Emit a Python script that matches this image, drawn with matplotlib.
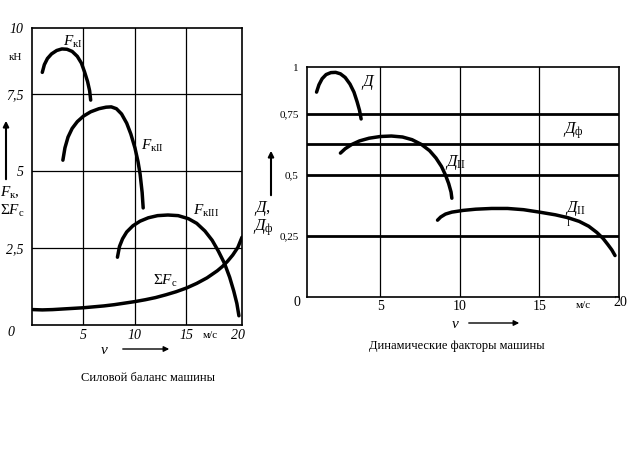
import matplotlib
matplotlib.use("Agg")
import matplotlib.pyplot as plt

plt.rcParams['font.family'] = ['Liberation Serif', 'DejaVu Serif']
plt.rcParams['mathtext.fontset'] = 'custom'
plt.rcParams['mathtext.rm'] = 'Liberation Serif'
plt.rcParams['mathtext.it'] = 'Liberation Serif:italic'

# ---- left chart: силовой баланс ----
fk1_v = [1.0, 1.2, 1.5, 1.9, 2.4, 2.9, 3.4, 3.9, 4.4, 4.8, 5.1, 5.4, 5.6, 5.7]
fk1_f = [8.2, 8.45, 8.65, 8.8, 8.91, 8.96, 8.95, 8.88, 8.72, 8.5, 8.22, 7.9, 7.6, 7.3]
fk2_v = [3.0, 3.2, 3.5, 3.9, 4.4, 5.0, 5.7, 6.5, 7.2, 7.7, 8.2, 8.7, 9.2, 9.6,
         10.0, 10.3, 10.5, 10.7, 10.8]
fk2_f = [5.35, 5.75, 6.1, 6.38, 6.6, 6.78, 6.92, 7.02, 7.07, 7.08, 7.02, 6.85,
         6.55, 6.2, 5.75, 5.3, 4.9, 4.3, 3.8]
fk3_v = [8.3, 8.5, 8.8, 9.2, 9.8, 10.5, 11.3, 12.2, 13.2, 14.2, 15.2, 16.0, 16.8,
         17.5, 18.1, 18.7, 19.2, 19.6, 19.9, 20.1]
fk3_f = [2.2, 2.55, 2.8, 3.02, 3.22, 3.37, 3.48, 3.55, 3.57, 3.55, 3.45, 3.3,
         3.05, 2.75, 2.4, 2.0, 1.55, 1.1, 0.7, 0.3]
fc_v = [0.1, 1, 2, 3, 4, 5, 6, 7, 8, 9, 10, 11, 12, 13, 14, 15, 16, 17, 18,
        18.5, 19, 19.5, 20, 20.4]
fc_f = [0.5, 0.49, 0.5, 0.52, 0.54, 0.56, 0.59, 0.62, 0.66, 0.71, 0.76, 0.82,
        0.89, 0.98, 1.08, 1.2, 1.35, 1.53, 1.76, 1.9, 2.07, 2.27, 2.52, 2.85]
left_xticks = [5, 10, 15, 20]
left_yticks = [2.5, 5, 7.5]
left_ylabels = ['2,5', '5', '7,5']

# ---- right chart: динамические факторы ----
d1_v = [1.0, 1.15, 1.35, 1.6, 1.9, 2.2, 2.5, 2.8, 3.1, 3.35, 3.55, 3.7, 3.8]
d1 = [0.84, 0.87, 0.895, 0.912, 0.92, 0.921, 0.915, 0.9, 0.873, 0.84, 0.8, 0.765, 0.73]
d2_v = [2.5, 2.8, 3.2, 3.7, 4.3, 5.0, 5.7, 6.4, 7.0, 7.6, 8.1, 8.5, 8.85, 9.1,
        9.3, 9.45, 9.5]
d2 = [0.59, 0.608, 0.625, 0.64, 0.651, 0.658, 0.66, 0.656, 0.645, 0.625, 0.6,
      0.57, 0.535, 0.5, 0.465, 0.43, 0.405]
d3_v = [8.6, 8.8, 9.1, 9.5, 10.2, 11.0, 12.0, 13.0, 14.0, 15.0, 16.0, 16.8,
        17.5, 18.1, 18.6, 19.0, 19.3, 19.55, 19.75]
d3 = [0.315, 0.328, 0.34, 0.348, 0.355, 0.36, 0.363, 0.363, 0.358, 0.348, 0.337,
      0.325, 0.31, 0.29, 0.265, 0.24, 0.215, 0.193, 0.17]
d_phi = 0.627
right_xticks = [5, 10, 15]
right_yticks = [0.25, 0.5, 0.75]
right_ylabels = ['0,25', '0,5', '0,75']

W, H = 630, 450
fig = plt.figure(figsize=(6.3, 4.5), dpi=100)


def px(x, y):
    return x / W, 1 - y / H


def ftext(x, y, s, **kw):
    kw.setdefault('ha', 'left')
    kw.setdefault('va', 'center')
    fig.text(*px(x, y), s, **kw)


def arrow(x0, y0, x1, y1, lw=1.5):
    fig.add_artist(matplotlib.patches.FancyArrowPatch(
        px(x0, y0), px(x1, y1), transform=fig.transFigure,
        arrowstyle='-|>', mutation_scale=8, color='k', lw=lw))


lw = 2.5

# left axes
ax = fig.add_axes([32 / W, 1 - 325 / H, 210 / W, 297 / H])
ax.set_xlim(0, 20.4)
ax.set_ylim(0, 9.64)
for v in [5, 10, 15]:
    ax.axvline(v, color='k', lw=0.9)
for f in left_yticks:
    ax.axhline(f, color='k', lw=0.9)
for xs, ys in [(fk1_v, fk1_f), (fk2_v, fk2_f), (fk3_v, fk3_f), (fc_v, fc_f)]:
    ax.plot(xs, ys, color='k', lw=lw, solid_capstyle='round')
ax.set_xticks(left_xticks)
ax.set_xticklabels([str(t) for t in left_xticks], style='italic', fontsize=10)
ax.set_yticks(left_yticks + [9.64])
ax.set_yticklabels(left_ylabels + ['10'], style='italic', fontsize=10)
ax.tick_params(length=0, pad=6)
ax.tick_params(axis='x', pad=3)
for s in ax.spines.values():
    s.set_linewidth(1.2)

ftext(7, 333, '0', style='italic', fontsize=10)
ftext(203, 336, 'м/с', fontsize=8)
ftext(9, 58, 'кН', fontsize=8)
ftext(63, 42, r'$F_{\mathrm{кI}}$', fontsize=11)
ftext(141, 146, r'$F_{\mathrm{кII}}$', fontsize=11)
ftext(193, 211, r'$F_{\mathrm{кIII}}$', fontsize=11)
ftext(153, 281, r'$\Sigma F_{\mathrm{с}}$', fontsize=11)
ftext(0, 193, r'$F_{\mathrm{к}}$,', fontsize=11)
ftext(0, 211, r'$\Sigma F_{\mathrm{с}}$', fontsize=11)
arrow(6, 182, 6, 118)
ftext(104, 350, 'v', style='italic', fontsize=11, ha='center')
arrow(120, 349, 172, 349, lw=1)
ftext(148, 378, 'Силовой баланс машины', fontsize=9, ha='center')

# right axes
ax2 = fig.add_axes([307 / W, 1 - 297 / H, 312 / W, 230 / H])
ax2.set_xlim(0.4, 20)
ax2.set_ylim(0, 0.943)
for v in right_xticks:
    ax2.axvline(v, color='k', lw=0.9)
for d in right_yticks + [d_phi]:
    ax2.axhline(d, color='k', lw=2)
for xs, ys in [(d1_v, d1), (d2_v, d2), (d3_v, d3)]:
    ax2.plot(xs, ys, color='k', lw=lw, solid_capstyle='round')
ax2.set_xticks(right_xticks)
ax2.set_xticklabels([str(t) for t in right_xticks], fontsize=10)
ax2.set_yticks(right_yticks + [0.943])
ax2.set_yticklabels(right_ylabels + ['1'], fontsize=8)
ax2.tick_params(length=0, pad=6)
ax2.tick_params(axis='x', pad=2)
for s in ax2.spines.values():
    s.set_linewidth(1.2)

ftext(297, 302, '0', fontsize=10, ha='center')
ftext(620, 302, '20', fontsize=10, ha='center')
ftext(583, 306, 'м/с', fontsize=8, ha='center')
ftext(361, 82, r'$Д$', fontsize=12)
ftext(563, 131, r'$Д_{\mathrm{ф}}$', fontsize=12)
ftext(445, 162, r'$Д_{\mathrm{II}}$', fontsize=12)
ftext(565, 208, r'$Д_{\mathrm{II}}$', fontsize=12)
ftext(568, 223, 'I', fontsize=7, ha='center')
ftext(254, 209, r'$Д$,', fontsize=12)
ftext(253, 228, r'$Д_{\mathrm{ф}}$', fontsize=12)
arrow(271, 198, 271, 148)
ftext(455, 324, 'v', style='italic', fontsize=11, ha='center')
arrow(466, 323, 522, 323, lw=1)
ftext(457, 346, 'Динамические факторы машины', fontsize=9, ha='center')

fig.savefig('out.png', dpi=100)
